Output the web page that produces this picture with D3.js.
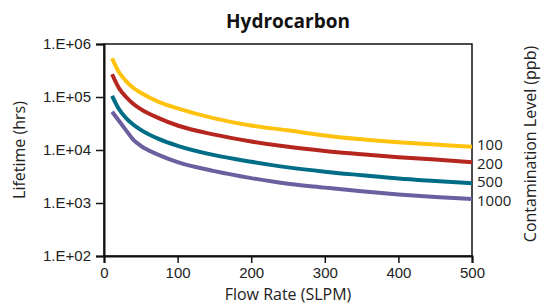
<!DOCTYPE html>
<html>
<head>
<meta charset="utf-8">
<script src="https://cdn.jsdelivr.net/npm/d3@7"></script>
<style>
  body { margin: 0; background: #fff; }
  svg { display: block; font-family: "Open Sans", "Noto Sans", sans-serif; }
</style>
</head>
<body>
<script>
// flow rate (SLPM)
var flows = [11, 20, 30, 40, 50, 75, 100, 150, 200, 250, 300, 350, 400, 450, 500];
// lifetime (hrs) per contamination level
var ppb100 = [537000, 300000, 200000, 148000, 120000, 80000, 61000, 39500, 29000, 23500, 18800, 15900, 14000, 12700, 11500];
var ppb200 = [269000, 150000, 100000, 74000, 59000, 39500, 29000, 19500, 14500, 11500, 9600, 8300, 7300, 6600, 5900];
var ppb500 = [105000, 60000, 40000, 30000, 24000, 16000, 12000, 8000, 6000, 4700, 3900, 3350, 2900, 2600, 2350];
var ppb1000 = [52700, 36000, 23500, 15500, 12000, 8000, 5900, 4000, 2950, 2300, 1950, 1660, 1450, 1300, 1190];
var levels = ['100', '200', '500', '1000'];
var colors = ['#ffc20e', '#b5261e', '#006d87', '#6c5fa0'];
var xTicks = [0, 100, 200, 300, 400, 500];
var yTicks = [1e2, 1e3, 1e4, 1e5, 1e6];

var series = [ppb100, ppb200, ppb500, ppb1000].map(function(vals, i) {
  return { name: levels[i], color: colors[i], values: vals.map(function(v, j) { return { x: flows[j], y: v }; }) };
});

var W = 546, H = 304;
var m = { left: 104, right: 74, top: 44, bottom: 48 };
var w = W - m.left - m.right, h = H - m.top - m.bottom;

var svg = d3.select('body').append('svg').attr('width', W).attr('height', H);
var g = svg.append('g').attr('transform', 'translate(' + m.left + ',' + m.top + ')');

var x = d3.scaleLinear().domain([0, 500]).range([0, w]);
var y = d3.scaleLog().domain([1e2, 1e6]).range([h, 0]);

var fmt = function(d) { return '1.E+' + String(Math.round(Math.log10(d))).padStart(2, '0'); };

// frame (top + right)
g.append('rect').attr('x', 0).attr('y', 0).attr('width', w).attr('height', h)
  .attr('fill', 'none').attr('stroke', '#111').attr('stroke-width', 1.5);

var yAxis = g.append('g').call(d3.axisLeft(y).tickValues(yTicks).tickFormat(fmt).tickSizeOuter(0).tickSize(8).tickPadding(5));
var xAxis = g.append('g').attr('transform', 'translate(0,' + h + ')')
  .call(d3.axisBottom(x).tickValues(xTicks).tickSizeOuter(0).tickSize(7).tickPadding(4));

[yAxis, xAxis].forEach(function(a) {
  a.select('.domain').attr('stroke', '#111').attr('stroke-width', 2);
  a.selectAll('.tick line').attr('stroke', '#111').attr('stroke-width', 1.5);
  a.selectAll('.tick text').attr('fill', '#222').style('font-size', '15px');
});

var line = d3.line().x(function(d) { return x(d.x); }).y(function(d) { return y(d.y); }).curve(d3.curveMonotoneX);

g.selectAll('.series').data(series).enter().append('path')
  .attr('class', 'series')
  .attr('d', function(d) { return line(d.values); })
  .attr('fill', 'none')
  .attr('stroke', function(d) { return d.color; })
  .attr('stroke-width', 4);

// end labels, pushed apart so they don't collide
var ly = series.map(function(d) { return y(d.values[d.values.length - 1].y); });
for (var k = 0; k < 20; k++) {
  for (var i = 1; i < ly.length; i++) {
    var gap = ly[i] - ly[i - 1];
    if (gap < 18.5) {
      var push = (18.5 - gap) / 2;
      ly[i - 1] -= push;
      ly[i] += push;
    }
  }
}

g.selectAll('.lbl').data(series).enter().append('text')
  .attr('class', 'lbl')
  .attr('x', w + 5)
  .attr('y', function(d, i) { return ly[i]; })
  .attr('dy', '0.35em')
  .style('font-size', '15px').attr('fill', '#222')
  .text(function(d) { return d.name; });

svg.append('text').attr('x', m.left + w / 2).attr('y', 28).attr('text-anchor', 'middle')
  .style('font-size', '19px').style('font-weight', 'bold').attr('fill', '#111').text('Hydrocarbon');

svg.append('text').attr('x', m.left + w / 2).attr('y', 300).attr('text-anchor', 'middle')
  .style('font-size', '16px').attr('fill', '#222').text('Flow Rate (SLPM)');

svg.append('text').attr('transform', 'translate(25,' + (m.top + h / 2) + ') rotate(-90)')
  .attr('text-anchor', 'middle').style('font-size', '16px').attr('fill', '#222').text('Lifetime (hrs)');

svg.append('text').attr('transform', 'translate(536,' + (m.top + h / 2 - 6) + ') rotate(-90)')
  .attr('text-anchor', 'middle').style('font-size', '16px').attr('fill', '#222').text('Contamination Level (ppb)');
</script>
</body>
</html>
